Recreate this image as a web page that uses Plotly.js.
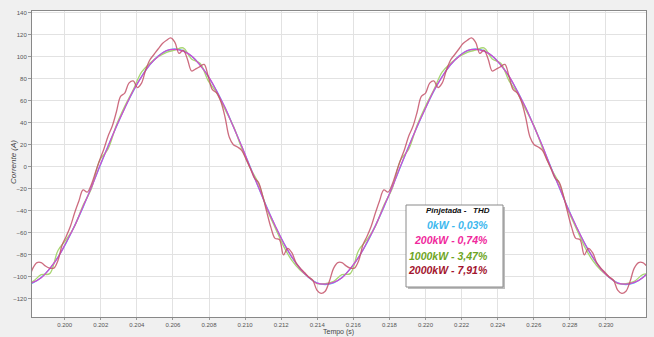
<!DOCTYPE html>
<html><head><meta charset="utf-8">
<script src="https://cdn.plot.ly/plotly-3.0.1.min.js"></script>
<style>html,body{margin:0;padding:0;background:#f0f0f0;}#chart{width:654px;height:337px;}</style>
</head><body><div id="chart"></div>
<script>
// time grid for the smooth series (s)
const tMain = [0.19778,0.19824,0.19870,0.19917,0.19963,0.20009,0.20055,0.20102,0.20148,0.20194,0.20240,0.20287,0.20333,0.20380,0.20426,0.20472,0.20518,0.20565,0.20611,0.20657,0.20703,0.20750,0.20796,0.20843,0.20889,0.20935,0.20981,0.21028,0.21074,0.21120,0.21166,0.21213,0.21259,0.21306,0.21352,0.21398,0.21444,0.21491,0.21537,0.21583,0.21629,0.21676,0.21722,0.21769,0.21815,0.21861,0.21907,0.21954,0.22000,0.22046,0.22092,0.22139,0.22185,0.22232,0.22278,0.22324,0.22370,0.22417,0.22463,0.22509,0.22555,0.22602,0.22648,0.22694,0.22741,0.22787,0.22833,0.22880,0.22926,0.22972,0.23018,0.23065,0.23111,0.23157,0.23204,0.23250];

const i0kW = [-107,-105.4,-100.5,-92.7,-82.0,-68.8,-53.5,-36.6,-18.6,0,18.6,36.6,53.5,68.8,82.0,92.7,100.5,105.4,107,105.4,100.5,92.7,82.0,68.8,53.5,36.6,18.6,0,-18.6,-36.6,-53.5,-68.8,-82.0,-92.7,-100.5,-105.4,-107,-105.4,-100.5,-92.7,-82.0,-68.8,-53.5,-36.6,-18.6,0,18.6,36.6,53.5,68.8,82.0,92.7,100.5,105.4,107,105.4,100.5,92.7,82.0,68.8,53.5,36.6,18.6,0,-18.6,-36.6,-53.5,-68.8,-82.0,-92.7,-100.5,-105.4,-107,-105.4,-100.5,-92.7];

const i200kW = [-106.8,-105.0,-100.8,-92.4,-82.3,-68.5,-53.8,-36.2,-18.9,0.4,18.3,36.9,53.2,69.1,81.7,92.9,100.2,105.6,106.6,105.1,100.7,92.4,82.3,68.5,53.8,36.3,18.9,-0.3,-18.4,-36.9,-53.2,-69.0,-81.8,-92.9,-100.3,-105.6,-106.6,-105.0,-100.8,-92.4,-82.3,-68.5,-53.8,-36.2,-18.9,0.4,18.3,36.9,53.2,69.1,81.7,92.9,100.2,105.6,106.6,105.1,100.7,92.4,82.3,68.5,53.8,36.3,18.9,-0.3,-18.4,-36.9,-53.2,-69.0,-81.8,-92.9,-100.3,-105.6,-106.6,-105.0,-100.8,-92.4];

const i1000kW = [-106,-104,-98,-97,-76,-66,-54,-35,-20,6,16,38,55,70,86,94,100,104,106,108,98,94,78,67,52,37,17,-1,-15,-38,-55,-72,-85,-94,-100,-106,-106,-104,-98,-97,-76,-66,-54,-35,-20,6,16,38,55,70,86,94,100,104,106,108,98,94,78,67,52,37,17,-1,-15,-38,-55,-72,-85,-94,-100,-106,-106,-104,-98,-97];

// finer time grid for the 2000 kW series (s)
const tRed = [0.19801,0.19824,0.19847,0.19870,0.19893,0.19917,0.19940,0.19963,0.19986,0.20009,0.20032,0.20055,0.20079,0.20102,0.20125,0.20148,0.20171,0.20194,0.20217,0.20241,0.20264,0.20287,0.20310,0.20333,0.20356,0.20380,0.20403,0.20426,0.20449,0.20472,0.20495,0.20518,0.20542,0.20565,0.20588,0.20611,0.20634,0.20657,0.20680,0.20704,0.20727,0.20750,0.20773,0.20796,0.20819,0.20843,0.20866,0.20889,0.20912,0.20935,0.20958,0.20981,0.21005,0.21028,0.21051,0.21074,0.21097,0.21120,0.21143,0.21166,0.21190,0.21213,0.21236,0.21259,0.21282,0.21306,0.21329,0.21352,0.21375,0.21398,0.21421,0.21444,0.21467,0.21491,0.21514,0.21537,0.21560,0.21583,0.21606,0.21630,0.21653,0.21676,0.21699,0.21722,0.21745,0.21769,0.21792,0.21815,0.21838,0.21861,0.21884,0.21907,0.21931,0.21954,0.21977,0.22000,0.22023,0.22046,0.22069,0.22092,0.22116,0.22139,0.22162,0.22185,0.22208,0.22232,0.22255,0.22278,0.22301,0.22324,0.22347,0.22370,0.22394,0.22417,0.22440,0.22463,0.22486,0.22509,0.22532,0.22555,0.22579,0.22602,0.22625,0.22648,0.22671,0.22694,0.22717,0.22741,0.22764,0.22787,0.22810,0.22833,0.22856,0.22880,0.22903,0.22926,0.22949,0.22972,0.22995,0.23018,0.23042,0.23065,0.23088,0.23111,0.23134,0.23157,0.23181,0.23204,0.23227,0.23250];

const i2000kW = [-104,-92,-87,-87,-90,-92,-92,-85,-71,-63,-54,-42,-31,-21,-23,-16,-5,6,16,28,37,50,64,67,76,78,72,76,88,97,102,107,112,115,117,113,103,106,98,87,89,91,93,82,70,67,59,45,27,20,18,15,7,-1,-10,-14,-26,-41,-55,-65,-66,-80,-74,-78,-87,-92,-96,-100,-103,-112,-115,-113,-104,
-92,-87,-87,-90,-92,-92,-85,-71,-63,-54,-42,-31,-21,-23,-16,-5,6,16,28,37,50,64,67,76,78,72,76,88,97,102,107,112,115,117,113,103,106,98,87,89,91,93,82,70,67,59,45,27,20,18,15,7,-1,-10,-14,-26,-41,-55,-65,-66,-80,-74,-78,-87,-92,-96,-100,-103,-112,-115,-113,-104,
-92,-87,-87,-90,-92];

const xTicks = [0.200,0.202,0.204,0.206,0.208,0.210,0.212,0.214,0.216,0.218,0.220,0.222,0.224,0.226,0.228,0.230];
const yTicks = [-120,-100,-80,-60,-40,-20,0,20,40,60,80,100,120,140];

const legendHeader = "Pinjetada -   THD";
const seriesLabels = ["0kW - 0,03%","200kW - 0,74%","1000kW - 3,47%","2000kW - 7,91%"];
const labelColors = ["#3db8ee","#f0289c","#6ea524","#a3152e"];

const W = 654, H = 337, L = 32, R = 8, T = 11, B = 20;
const pw = W - L - R, ph = H - T - B;
const px = x => (x - L) / pw;
const py = y => (H - B - y) / ph;

const lineBase = {type:'scatter', mode:'lines', hoverinfo:'skip'};
const data = [
  Object.assign({}, lineBase, {x:tMain, y:i0kW, name:'0kW', line:{color:'#4ec2f2', width:1.4, shape:'spline'}}),
  Object.assign({}, lineBase, {x:tMain, y:i1000kW, name:'1000kW', line:{color:'#a8d672', width:1.3, shape:'spline'}}),
  Object.assign({}, lineBase, {x:tMain, y:i200kW, name:'200kW', line:{color:'#d447d0', width:1.2, shape:'spline'}}),
  Object.assign({}, lineBase, {x:tRed, y:i2000kW, name:'2000kW', line:{color:'rgba(196,82,104,0.85)', width:1.3, shape:'spline'}})
];

const annotations = [
  {xref:'paper', yref:'paper', x:px(13), xanchor:'center', y:py(162), yanchor:'middle', text:'<i>Corrente (A)</i>', textangle:-90, showarrow:false, font:{family:'Liberation Sans', size:8, color:'#444'}},
  {xref:'paper', yref:'paper', x:px(338), y:py(337.5), yanchor:'bottom', text:'Tempo (s)', showarrow:false, font:{family:'Liberation Sans', size:7, color:'#444'}},
  {xref:'paper', yref:'paper', x:px(492), y:py(216.7), xanchor:'right', text:'<b><i>'+legendHeader.replace(/ /g,'&nbsp;')+'</i></b>', showarrow:false, font:{family:'Liberation Sans', size:8, color:'#111'}}
];
const rowY = [233.3, 248.3, 263.8, 277.8];
seriesLabels.forEach((s,i) => annotations.push({xref:'paper', yref:'paper', x:px(490), y:py(rowY[i]), xanchor:'right', text:'<b><i>'+s+'</i></b>', showarrow:false, font:{family:'Liberation Sans', size:10.5, color:labelColors[i]}}));

const shapes = [
  {type:'rect', xref:'paper', yref:'paper', x0:px(408), x1:px(505), y0:py(289), y1:py(207), line:{width:0}, fillcolor:'#bdbdbd', layer:'above'},
  {type:'rect', xref:'paper', yref:'paper', x0:px(406), x1:px(503), y0:py(287), y1:py(205), line:{width:1, color:'#8a8a8a'}, fillcolor:'#ffffff', layer:'above'}
];

const layout = {
  width:W, height:H,
  margin:{l:L, r:R, t:T, b:B, pad:0},
  paper_bgcolor:'#f0f0f0', plot_bgcolor:'#ffffff',
  showlegend:false,
  xaxis:{range:[0.19819,0.23222], tickvals:xTicks, tickformat:'.3f', tickfont:{family:'Liberation Sans', size:6, color:'#555'}, showgrid:true, gridcolor:'#e2e2e2', gridwidth:1, zeroline:false, showline:true, linecolor:'#888', linewidth:1, mirror:true, ticks:'outside', ticklen:2, tickcolor:'#999'},
  yaxis:{range:[-136.4,141.5], tickvals:yTicks, tickfont:{family:'Liberation Sans', size:6, color:'#555'}, showgrid:true, gridcolor:'#e2e2e2', gridwidth:1, zeroline:false, showline:true, linecolor:'#888', linewidth:1, mirror:true, ticks:'outside', ticklen:3, tickcolor:'#999'},
  annotations, shapes
};
Plotly.newPlot('chart', data, layout, {staticPlot:true, displayModeBar:false});
</script></body></html>
